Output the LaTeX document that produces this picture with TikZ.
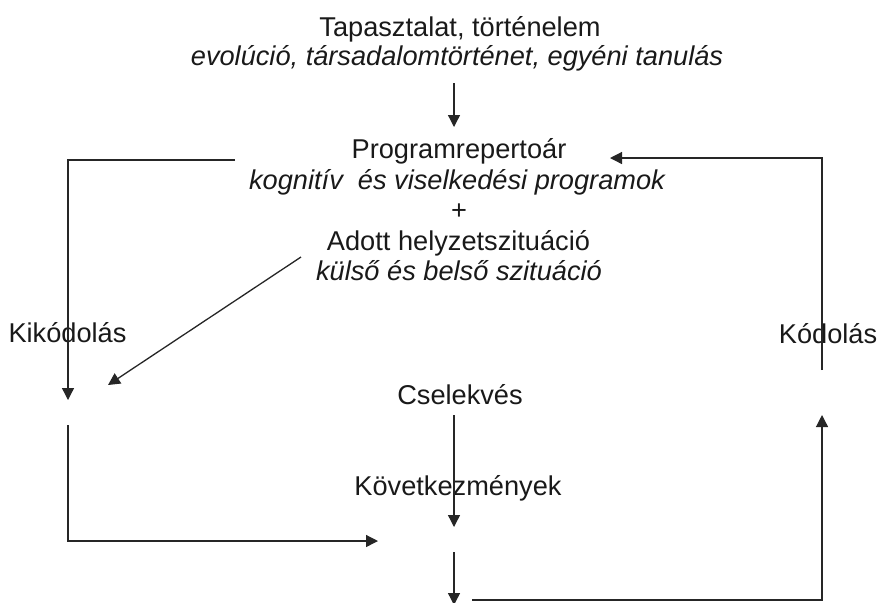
\documentclass[tikz,border=0pt]{standalone}
\usepackage{fontspec}
\setmainfont{Liberation Sans}
\usetikzlibrary{arrows.meta}
\tikzset{
	txt/.style={anchor=base, inner sep=0pt, text=black!90, font=\fontsize{13.6}{15.3}\selectfont},
	dolt/.style={txt, font=\fontsize{13.6}{15.3}\selectfont\itshape},
	nyil/.style={-{Triangle[length=6pt,width=6pt]}}
}

\begin{document}
\begin{tikzpicture}[x=0.5pt, y=-0.5pt, line width=0.65pt, black!85]
	\useasboundingbox (0,0) rectangle (881,602);

	\node[txt] (tapasztalat) at (460,36) {Tapasztalat, történelem};
	\node[dolt] (evolucio) at (457,65) {evolúció, társadalomtörténet, egyéni tanulás};
	\node[txt] (program) at (459,158) {Programrepertoár};
	\node[dolt] (kognitiv) at (457,189) {kognitív\ \ és viselkedési programok};
	\node[txt] (plusz) at (459,219.5) {+};
	\node[txt] (adott) at (458.5,250) {Adott helyzetszituáció};
	\node[dolt] (kulso) at (459,280) {külső és belső szituáció};
	\node[txt] (kikodolas) at (67.5,342) {Kikódolás};
	\node[txt] (kodolas) at (828,343) {Kódolás};
	\node[txt] (cselekves) at (460,404) {Cselekvés};
	\node[txt] (kovetkezmeny) at (458,495) {Következmények};

	\coordinate (fent1) at (454,83);
	\coordinate (fent2) at (454,127);
	\coordinate (bal1) at (235,160);
	\coordinate (bal2) at (68,160);
	\coordinate (bal3) at (68,400);
	\coordinate (ferde1) at (301,257);
	\coordinate (ferde2) at (108,385);
	\coordinate (jobb1) at (822,370);
	\coordinate (jobb2) at (822,158);
	\coordinate (jobb3) at (610,158);
	\coordinate (kozep1) at (454,415);
	\coordinate (kozep2) at (454,527);
	\coordinate (lent1) at (68,425);
	\coordinate (lent2) at (68,541);
	\coordinate (lent3) at (378,541);
	\coordinate (also1) at (454,552);
	\coordinate (also2) at (454,605);
	\coordinate (sarok1) at (472,600);
	\coordinate (sarok2) at (822,600);
	\coordinate (sarok3) at (822,415);

	\draw[nyil] (fent1) -- (fent2);
	\draw[nyil] (bal1) -- (bal2) -- (bal3);
	\draw[nyil] (ferde1) -- (ferde2);
	\draw[nyil] (jobb1) -- (jobb2) -- (jobb3);
	\draw[nyil] (kozep1) -- (kozep2);
	\draw[nyil] (lent1) -- (lent2) -- (lent3);
	\draw[nyil] (also1) -- (also2);
	\draw[nyil] (sarok1) -- (sarok2) -- (sarok3);
\end{tikzpicture}
\end{document}
